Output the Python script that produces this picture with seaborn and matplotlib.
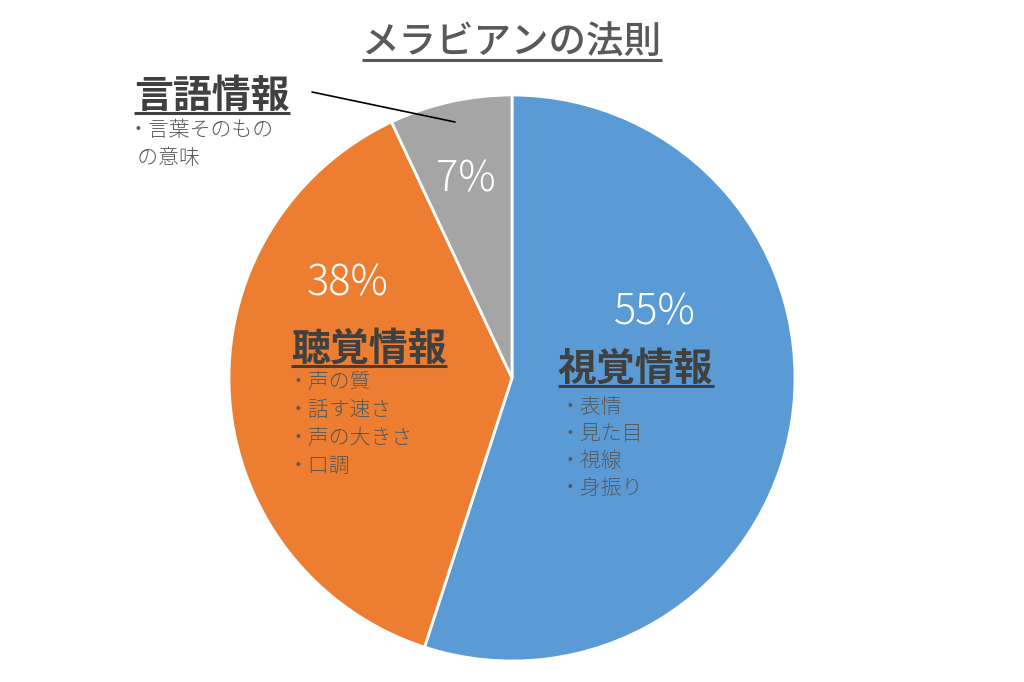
import matplotlib.pyplot as plt
import seaborn as sns

sns.set_theme(style="white")
plt.rcParams['font.family'] = ['Noto Sans CJK JP', 'DejaVu Sans']

# data
categories = ['視覚情報', '聴覚情報', '言語情報']
shares = [55, 38, 7]
colors = ['#5B9BD5', '#ED7D31', '#A5A5A5']
details = [
    ['・表情', '・見た目', '・視線', '・身振り'],
    ['・声の質', '・話す速さ', '・声の大きさ', '・口調'],
    ['・言葉そのもの', '  の意味'],
]
title = 'メラビアンの法則'

W, H = 1024, 682
fig = plt.figure(figsize=(W / 100, H / 100), dpi=100)
ax = fig.add_axes([0, 0, 1, 1])


def py(y):
    # pixel row -> data y
    return H - y


ax.pie(shares, colors=colors, startangle=90, counterclock=False,
       center=(512, py(378)), radius=283, frame=True,
       wedgeprops=dict(edgecolor='white', linewidth=2))
ax.set_xlim(0, W)
ax.set_ylim(0, H)
ax.set_aspect('equal')
ax.axis('off')

dark = '#404040'
grey = '#595959'

# percentage labels
pct_pos = [(655, 313), (348, 284), (466, 180)]
for v, (x, y) in zip(shares, pct_pos):
    ax.text(x, py(y), f'{v}%', color='white', fontsize=30, weight='light',
            ha='center', va='center')

# headings + bullet lists
head_pos = [(558, 369), (291, 349), (134, 96)]
list_pos = [(560, 407), (288, 382), (128, 130)]
list_step = [27, 28, 28]
heads = []
for name, (hx, hy) in zip(categories, head_pos):
    t = ax.text(hx, py(hy), name, color=dark, fontsize=28, weight='bold',
                ha='left', va='center')
    heads.append((t, hy + 17))
for items, (lx, ly), st in zip(details, list_pos, list_step):
    for i, it in enumerate(items):
        ax.text(lx, py(ly + i * st), it, color=grey, fontsize=15,
                weight='light', ha='left', va='center')

tt = ax.text(512, py(43), title, color=grey, fontsize=27, weight='medium',
             ha='center', va='center')
heads.append((tt, 60))

# leader line for the small slice
ax.plot([312, 455], [py(92), py(122)], color='black', lw=1.2)

# underlines
fig.canvas.draw()
r = fig.canvas.get_renderer()
inv = ax.transData.inverted()
for t, uy in heads:
    bb = t.get_window_extent(r)
    (x0, _), (x1, _) = inv.transform([(bb.x0, bb.y0), (bb.x1, bb.y1)])
    ax.plot([x0, x1], [py(uy), py(uy)], color=t.get_color(), lw=2.2,
            solid_capstyle='butt')

fig.savefig('out.png', dpi=100, facecolor='white')
